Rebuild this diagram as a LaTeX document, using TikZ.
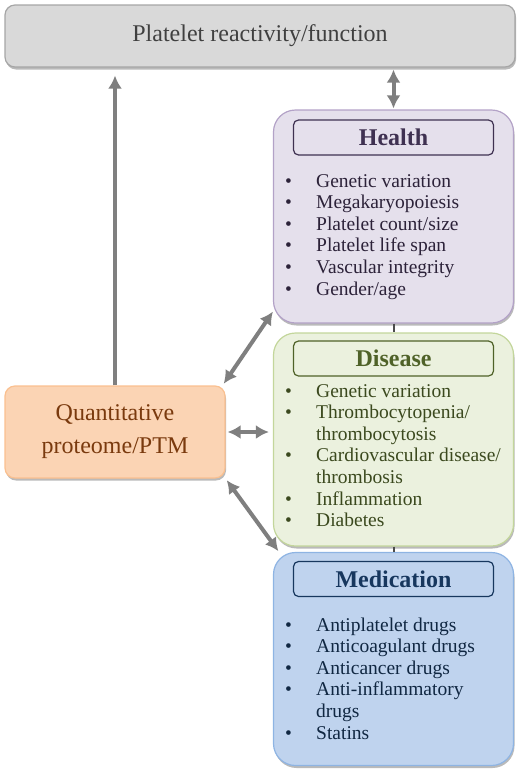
\documentclass[tikz,border=0pt]{standalone}
\usepackage{fontspec}
\setmainfont{Liberation Serif}
\usepackage{tikz}
\usetikzlibrary{arrows.meta, positioning, shadows}

\definecolor{topfill}{HTML}{D9D9D9}
\definecolor{topdraw}{HTML}{A6A6A6}
\definecolor{toptxt}{HTML}{404040}
\definecolor{healthfill}{HTML}{E5E0EC}
\definecolor{healthdraw}{HTML}{B3A2C7}
\definecolor{healthdark}{HTML}{3F3151}
\definecolor{disfill}{HTML}{EBF1DE}
\definecolor{disdraw}{HTML}{C3D69B}
\definecolor{disdark}{HTML}{4F6228}
\definecolor{medfill}{HTML}{BFD3EE}
\definecolor{meddraw}{HTML}{8EB4E3}
\definecolor{meddark}{HTML}{17375E}
\definecolor{quantfill}{HTML}{FBD4B4}
\definecolor{quantdraw}{HTML}{FAC090}
\definecolor{quanttxt}{HTML}{7A3A0E}
\definecolor{arrowgray}{HTML}{7F7F7F}

\newcommand{\bulletlist}[1]{\begin{tabular}[t]{@{}p{31pt}@{}l@{}}#1\end{tabular}}

\tikzstyle{topbar} = [rectangle, draw=topdraw, fill=topfill, line width=1.2pt,
    rounded corners=10pt, minimum width=510pt, minimum height=62pt,
    text=toptxt, font=\fontsize{24}{29}\selectfont,
    drop shadow={shadow xshift=1pt, shadow yshift=-2.5pt, fill=black!45, opacity=0.6}]
\tikzstyle{panel} = [rectangle, draw, line width=1.2pt, rounded corners=22pt,
    minimum width=240pt, minimum height=213pt,
    drop shadow={shadow xshift=1pt, shadow yshift=-2.5pt, fill=black!45, opacity=0.6}]
\tikzstyle{heading} = [rectangle, draw, line width=1.2pt, rounded corners=5pt,
    minimum width=200pt, minimum height=35pt, font=\fontsize{24}{28}\selectfont\bfseries]
\tikzstyle{items} = [inner sep=0pt, anchor=base west, font=\fontsize{19.5}{21.6}\selectfont]

\begin{document}
\begin{tikzpicture}[x=1pt, y=-1pt,
arr/.style = {draw=arrowgray, line width=4pt, -{Latex[length=13pt,width=14pt]}},
darr/.style = {draw=arrowgray, line width=4pt,
    {Latex[length=13pt,width=14pt]}-{Latex[length=13pt,width=14pt]}},
link/.style = {draw=black!70, line width=2pt},
quantbox/.style = {rectangle, draw=quantdraw, fill=quantfill, line width=1.2pt,
    rounded corners=10pt, minimum width=220pt, minimum height=92pt, align=center,
    text=quanttxt, font=\fontsize{24}{33}\selectfont,
    drop shadow={shadow xshift=1pt, shadow yshift=-2.5pt, fill=black!45, opacity=0.6}},
                        ]
\useasboundingbox (0,0) rectangle (520,774);

\node [topbar] (platelet) at (260,36) {Platelet reactivity/function};

% health
\node [panel, fill=healthfill, draw=healthdraw] (health) at (393.5,216.5) {};
\node [heading, fill=healthfill, draw=healthdark, text=healthdark,
       below=10pt of health.north] (healthhead) {Health};
\node [items, text=healthdark!70!black] (healthlist) at (285,187) {\bulletlist{%
  \textbullet & Genetic variation\\
  \textbullet & Megakaryopoiesis\\
  \textbullet & Platelet count/size\\
  \textbullet & Platelet life span\\
  \textbullet & Vascular integrity\\
  \textbullet & Gender/age\\}};

% disease
\node [panel, fill=disfill, draw=disdraw] (disease) at (393.5,439.5) {};
\node [heading, fill=disfill, draw=disdark, text=disdark,
       below=8pt of disease.north] (diseasehead) {Disease};
\node [items, text=disdark!75!black] (diseaselist) at (285,397) {\bulletlist{%
  \textbullet & Genetic variation\\
  \textbullet & Thrombocytopenia/\\
              & thrombocytosis\\
  \textbullet & Cardiovascular disease/\\
              & thrombosis\\
  \textbullet & Inflammation\\
  \textbullet & Diabetes\\}};

% medication
\node [panel, fill=medfill, draw=meddraw] (medic) at (393.5,659) {};
\node [heading, fill=medfill, draw=meddark, text=meddark,
       below=9pt of medic.north] (medichead) {Medication};
\node [items, text=meddark!70!black] (mediclist) at (285,631) {\bulletlist{%
  \textbullet & Antiplatelet drugs\\
  \textbullet & Anticoagulant drugs\\
  \textbullet & Anticancer drugs\\
  \textbullet & Anti-inflammatory\\
              & drugs\\
  \textbullet & Statins\\}};

% proteome
\node [quantbox] (quant) at (115,432) {Quantitative\\proteome/PTM};

% connectors
\draw [arr, shorten >=8pt] (quant.north) -- (quant.north |- platelet.south);
\draw [darr, shorten >=2pt, shorten <=1pt] (health.north) -- (health.north |- platelet.south);
\draw [link] (health.south) -- (disease.north);
\draw [link] (disease.south) -- (medic.north);
\draw [darr, shorten <=2pt] ([xshift=-3pt]quant.north east) -- ([yshift=12pt]health.south west);
\draw [darr, shorten <=2pt, shorten >=4pt] (quant.east) -- (quant.east -| disease.west);
\draw [darr, shorten <=2pt, shorten >=1pt] (quant.south east) -- ([xshift=6pt]medic.north west);
\end{tikzpicture}
\end{document}
